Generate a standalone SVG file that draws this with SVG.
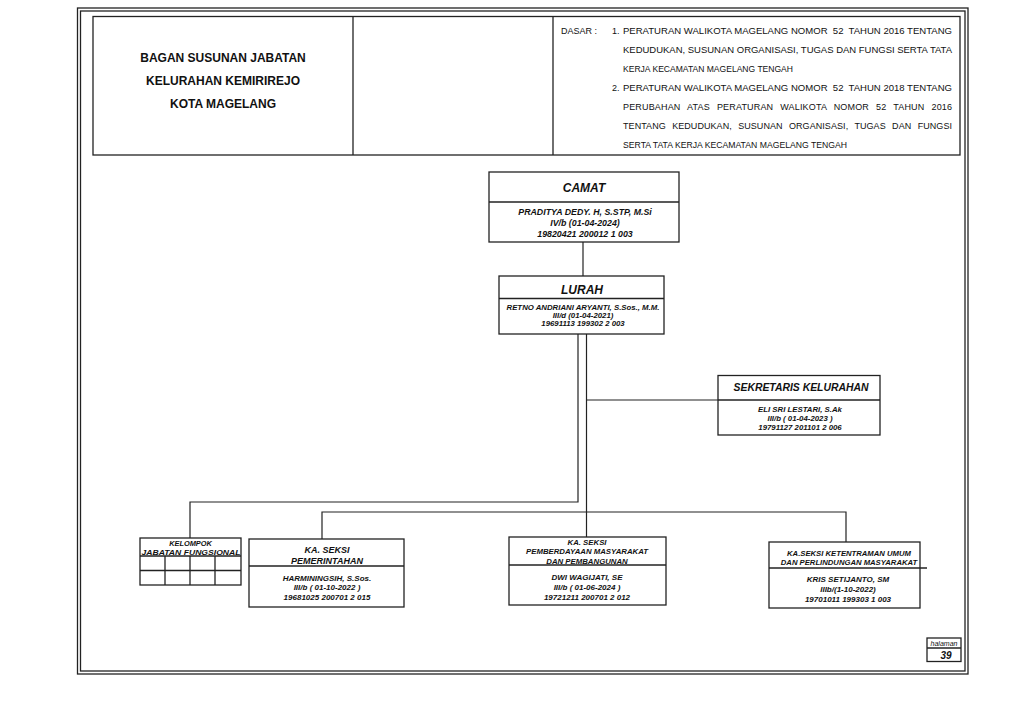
<svg xmlns="http://www.w3.org/2000/svg" width="1024" height="709" viewBox="0 0 1024 709">
<style>
.b{fill:none;stroke:#222;stroke-width:1.3}
.f{fill:#fff;stroke:#222;stroke-width:1.3}
.c{fill:none;stroke:#222;stroke-width:1.2}
.t{font-family:"Liberation Sans",Arial,sans-serif;fill:#111}
.bi{font-family:"Liberation Sans",Arial,sans-serif;font-weight:bold;font-style:italic;fill:#111;text-anchor:middle}
.ti{font-family:"Liberation Sans",Arial,sans-serif;font-weight:bold;fill:#111;text-anchor:middle;font-size:12px}
.d{font-family:"Liberation Sans",Arial,sans-serif;fill:#111;font-size:9px}
</style>
<rect width="1024" height="709" fill="#fff"/>
<g id="frame">
<rect class="b" x="77.5" y="8" width="890.5" height="666" stroke-width="1.5"/>
<rect class="b" x="80.5" y="11" width="884.5" height="660" stroke-width="1.5"/>
</g>
<g id="header">
<rect class="b" x="93" y="16.5" width="867" height="138.5" stroke-width="1.5"/>
<line class="b" x1="353" y1="16.5" x2="353" y2="155" stroke-width="1.5"/>
<line class="b" x1="553" y1="16.5" x2="553" y2="155" stroke-width="1.5"/>
<text class="ti" x="223" y="62">BAGAN SUSUNAN JABATAN</text>
<text class="ti" x="223" y="85">KELURAHAN KEMIRIREJO</text>
<text class="ti" x="223" y="108">KOTA MAGELANG</text>
<g id="dasar">
<text class="d" x="561" y="34" textLength="36" lengthAdjust="spacingAndGlyphs">DASAR :</text>
<text class="d" x="612" y="34">1.</text>
<text class="d" x="623" y="34" textLength="329" lengthAdjust="spacingAndGlyphs" xml:space="preserve">PERATURAN WALIKOTA MAGELANG NOMOR  52  TAHUN 2016 TENTANG</text>
<text class="d" x="623" y="53" textLength="329" lengthAdjust="spacingAndGlyphs">KEDUDUKAN, SUSUNAN ORGANISASI, TUGAS DAN FUNGSI SERTA TATA</text>
<text class="d" x="623" y="72" textLength="170" lengthAdjust="spacingAndGlyphs">KERJA KECAMATAN MAGELANG TENGAH</text>
<text class="d" x="612" y="91">2.</text>
<text class="d" x="623" y="91" textLength="329" lengthAdjust="spacingAndGlyphs" xml:space="preserve">PERATURAN WALIKOTA MAGELANG NOMOR  52  TAHUN 2018 TENTANG</text>
<text class="d" x="623" y="110" word-spacing="4.4" textLength="329" lengthAdjust="spacing">PERUBAHAN ATAS PERATURAN WALIKOTA NOMOR 52 TAHUN 2016</text>
<text class="d" x="623" y="129" word-spacing="3.8" textLength="329" lengthAdjust="spacing">TENTANG KEDUDUKAN, SUSUNAN ORGANISASI, TUGAS DAN FUNGSI</text>
<text class="d" x="623" y="148" textLength="224" lengthAdjust="spacingAndGlyphs">SERTA TATA KERJA KECAMATAN MAGELANG TENGAH</text>
</g>
</g>
<g id="connectors">
<line class="c" x1="583" y1="242" x2="583" y2="276"/>
<polyline class="c" points="578,334 578,502 190,502 190,538"/>
<line class="c" x1="586.5" y1="334" x2="586.5" y2="537"/>
<line class="c" x1="586.5" y1="400" x2="718" y2="400"/>
<polyline class="c" points="322,539 322,512 846,512 846,542"/>
</g>
<g id="camat">
<rect class="f" x="489" y="172" width="190" height="70"/>
<line class="b" x1="489" y1="202" x2="679" y2="202"/>
<text class="bi" x="584" y="192" font-size="12">CAMAT</text>
<text class="bi" x="585" y="215" font-size="8.8">PRADITYA DEDY. H, S.STP, M.Si</text>
<text class="bi" x="585" y="225.5" font-size="8.8">IV/b (01-04-2024)</text>
<text class="bi" x="585" y="236.5" font-size="8.8">19820421 200012 1 003</text>
</g>
<g id="lurah">
<rect class="f" x="499" y="276" width="165" height="58"/>
<line class="b" x1="499" y1="298.5" x2="664" y2="298.5"/>
<text class="bi" x="582" y="294" font-size="12">LURAH</text>
<text class="bi" x="583" y="309.5" font-size="7.8">RETNO ANDRIANI ARYANTI, S.Sos., M.M.</text>
<text class="bi" x="583" y="317.8" font-size="7.8">III/d (01-04-2021)</text>
<text class="bi" x="583" y="326" font-size="7.8">19691113 199302 2 003</text>
</g>
<g id="sekretaris">
<rect class="f" x="718" y="375.5" width="162" height="59.5"/>
<line class="b" x1="718" y1="400" x2="880" y2="400" stroke-width="2"/>
<text class="bi" x="801" y="391" font-size="10.4">SEKRETARIS KELURAHAN</text>
<text class="bi" x="800" y="412" font-size="7.8">ELI SRI LESTARI, S.Ak</text>
<text class="bi" x="800" y="420.8" font-size="7.8">III/b ( 01-04-2023 )</text>
<text class="bi" x="800" y="429.5" font-size="7.8">19791127 201101 2 006</text>
</g>
<g id="kelompok">
<rect class="f" x="140" y="538" width="101" height="47"/>
<line class="b" x1="140" y1="556" x2="241" y2="556"/>
<line class="b" x1="140" y1="570.5" x2="241" y2="570.5"/>
<line class="b" x1="165" y1="556" x2="165" y2="585"/>
<line class="b" x1="190" y1="556" x2="190" y2="585"/>
<line class="b" x1="215" y1="556" x2="215" y2="585"/>
<text class="bi" x="190.5" y="546" font-size="7.4">KELOMPOK</text>
<text class="bi" x="191" y="554.5" font-size="7.4" textLength="99" lengthAdjust="spacingAndGlyphs">JABATAN FUNGSIONAL</text>
</g>
<g id="pemerintahan">
<rect class="f" x="249" y="539" width="155" height="68"/>
<line class="b" x1="249" y1="566" x2="404" y2="566"/>
<text class="bi" x="327" y="552.5" font-size="9">KA. SEKSI</text>
<text class="bi" x="327" y="563.5" font-size="9">PEMERINTAHAN</text>
<text class="bi" x="327" y="581" font-size="8">HARMININGSIH, S.Sos.</text>
<text class="bi" x="327" y="590.3" font-size="8">III/b ( 01-10-2022 )</text>
<text class="bi" x="327" y="599.8" font-size="8">19681025 200701 2 015</text>
</g>
<g id="pemberdayaan">
<rect class="f" x="509" y="537" width="157" height="68"/>
<line class="b" x1="509" y1="565" x2="666" y2="565"/>
<text class="bi" x="587" y="544.5" font-size="7.8">KA. SEKSI</text>
<text class="bi" x="587" y="554" font-size="7.8">PEMBERDAYAAN MASYARAKAT</text>
<text class="bi" x="587" y="563.5" font-size="7.8">DAN PEMBANGUNAN</text>
<text class="bi" x="587" y="580" font-size="8">DWI WAGIJATI, SE</text>
<text class="bi" x="587" y="590" font-size="8">III/b ( 01-06-2024 )</text>
<text class="bi" x="587" y="599.5" font-size="8">19721211 200701 2 012</text>
</g>
<g id="ketentraman">
<rect class="f" x="769" y="542" width="151" height="66"/>
<line class="b" x1="769" y1="568" x2="927" y2="568"/>
<text class="bi" x="849" y="556" font-size="7.7">KA.SEKSI KETENTRAMAN UMUM</text>
<text class="bi" x="849" y="564.5" font-size="7.7">DAN PERLINDUNGAN MASYARAKAT</text>
<text class="bi" x="848" y="582" font-size="8">KRIS SETIJANTO, SM</text>
<text class="bi" x="848" y="592" font-size="8">IIIb/(1-10-2022)</text>
<text class="bi" x="848" y="601.5" font-size="8">19701011 199303 1 003</text>
</g>
<g id="halaman">
<rect class="f" x="927" y="638" width="34" height="23.5" stroke-width="1.2"/>
<line class="b" x1="927" y1="648" x2="961" y2="648" stroke-width="1.2"/>
<text class="t" x="944" y="646" font-size="7" font-style="italic" text-anchor="middle">halaman</text>
<text class="bi" x="946" y="659" font-size="10">39</text>
</g>
</svg>
